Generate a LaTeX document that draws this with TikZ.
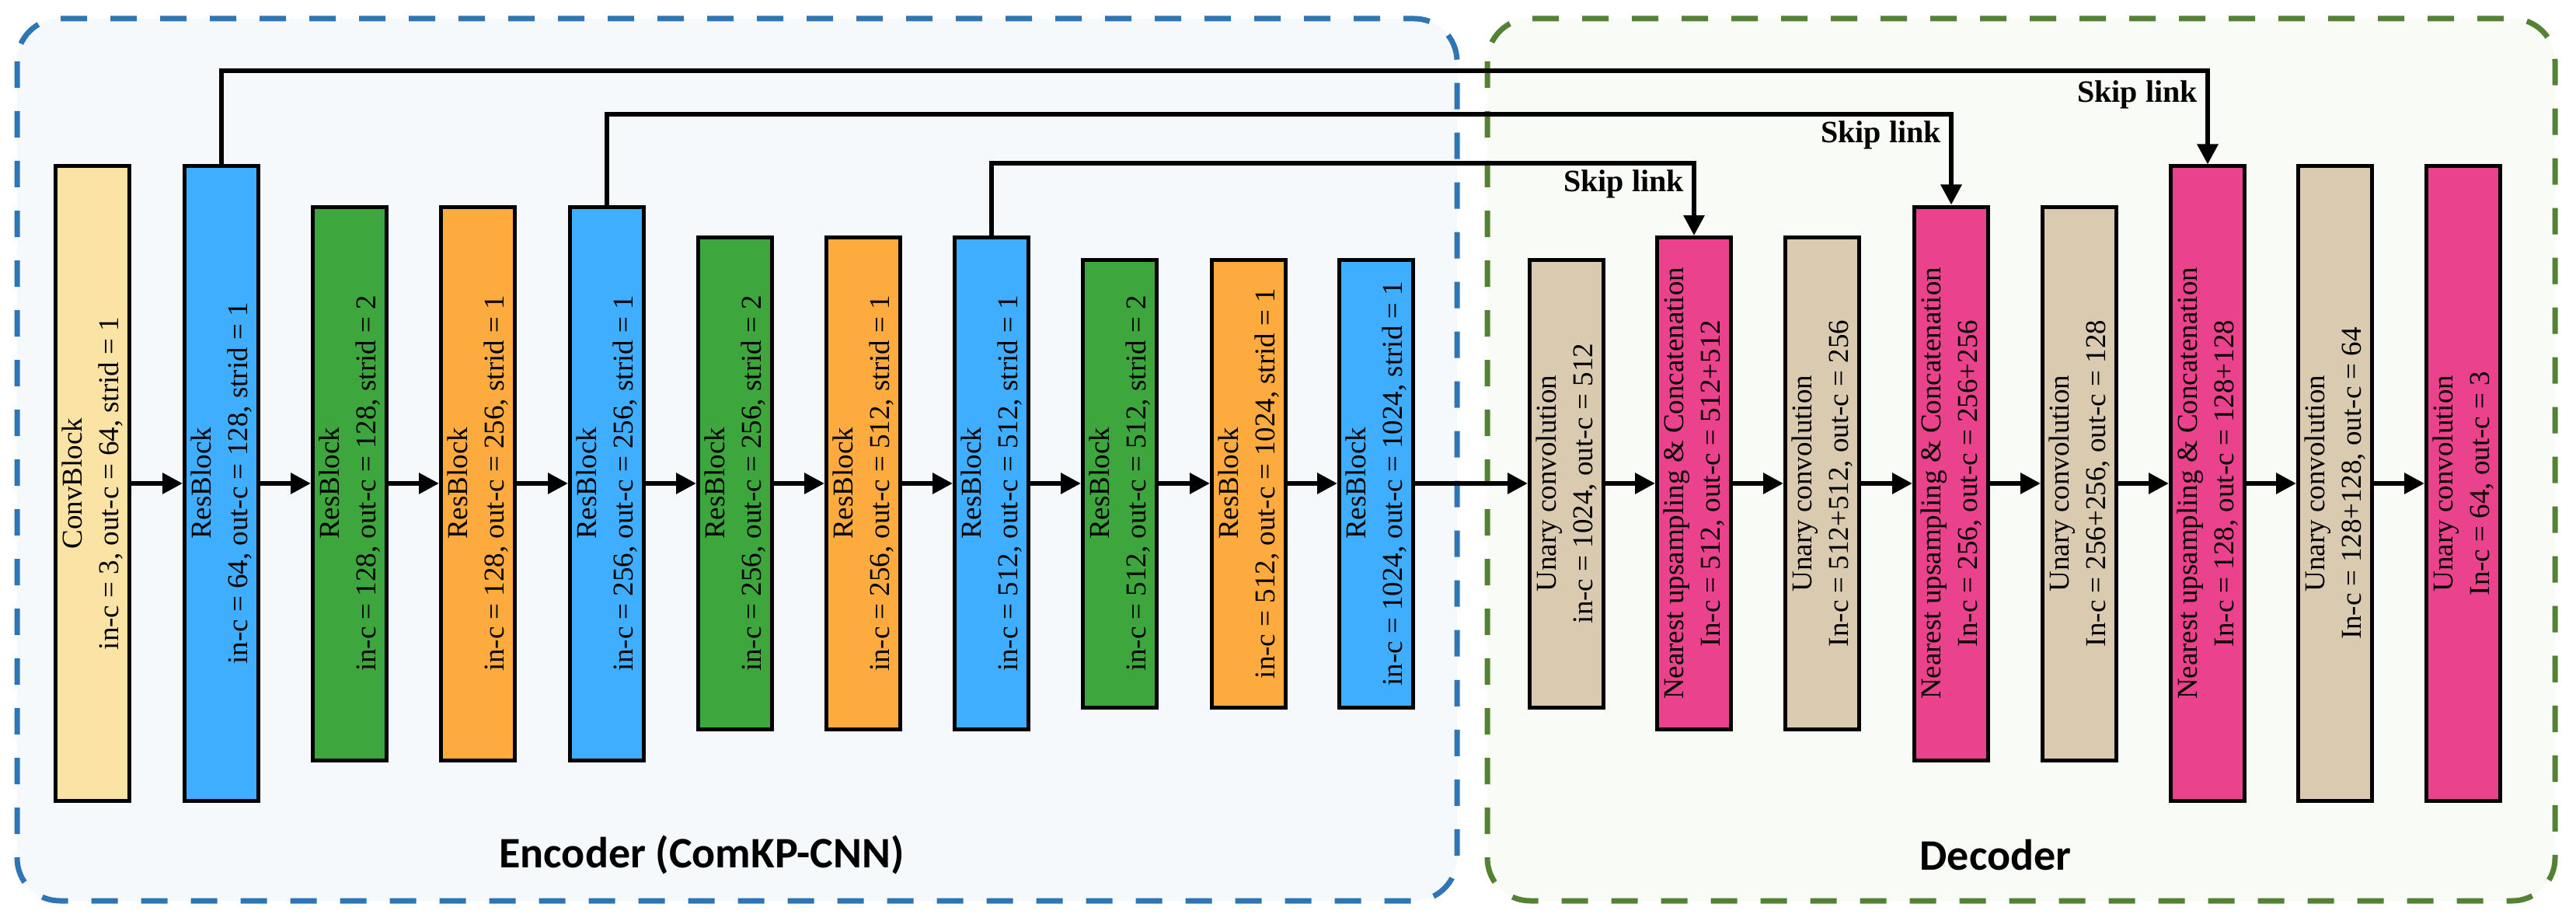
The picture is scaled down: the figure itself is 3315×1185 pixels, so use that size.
\documentclass[tikz,border=0pt]{standalone}
\usepackage{fontspec}
\setmainfont{Liberation Serif}
\newfontfamily\labfont{Carlito}
\usetikzlibrary{arrows.meta}
\definecolor{cconv}{HTML}{FBE3A6}
\definecolor{cblue}{HTML}{40AEFF}
\definecolor{cgreen}{HTML}{3DA63D}
\definecolor{corange}{HTML}{FDAB3F}
\definecolor{ctan}{HTML}{D9CAB0}
\definecolor{cpink}{HTML}{EA428C}
\definecolor{encline}{HTML}{2E75B6}
\definecolor{encfill}{HTML}{F5F9FC}
\definecolor{decline}{HTML}{548235}
\definecolor{decfill}{HTML}{F9FBF7}
\tikzset{
  blk/.style={draw=black,line width=5pt,minimum width=95pt,inner sep=0pt,rectangle},
  lbl/.style={rotate=90,align=center,font=\fontsize{37}{47}\selectfont,inner sep=0pt},
  flow/.style={line width=6pt,-{Triangle[length=26pt,width=26pt]}},
  skip/.style={line width=6pt,-{Triangle[length=26pt,width=26pt]}},
  skiplbl/.style={font=\fontsize{40}{44}\selectfont\bfseries,anchor=east,inner sep=0pt},
  frame/.style={line width=7pt,dash pattern=on 34pt off 30pt,rounded corners=55pt},
  title/.style={font=\labfont\fontsize{56}{60}\selectfont\bfseries}
}
\newcommand\blk[5]{\node[blk,fill=#4,minimum height=#3] (#1) at (#2,622) {};
  \node[lbl] (#1t) at (#1.center) {#5};}
\begin{document}
\begin{tikzpicture}[x=1pt,y=-1pt]
\useasboundingbox (0,0) rectangle (3315,1185);
\draw[frame,draw=encline,fill=encfill] (22,24) rectangle (1875,1159);
\draw[frame,draw=decline,fill=decfill] (1914,24) rectangle (3288,1159);
\node[title] (enc) at (903,1100) {Encoder (ComKP-CNN)};
\node[title] (dec) at (2568,1100) {Decoder};
% encoder
\blk{c0}{119}{816pt}{cconv}{ConvBlock\\in-c = 3, out-c = 64, strid = 1}
\blk{e1}{285}{816pt}{cblue}{ResBlock\\in-c = 64, out-c = 128, strid = 1}
\blk{e2}{450}{712pt}{cgreen}{ResBlock\\in-c = 128, out-c = 128, strid = 2}
\blk{e3}{615}{712pt}{corange}{ResBlock\\in-c = 128, out-c = 256, strid = 1}
\blk{e4}{781}{712pt}{cblue}{ResBlock\\in-c = 256, out-c = 256, strid = 1}
\blk{e5}{946}{633pt}{cgreen}{ResBlock\\in-c = 256, out-c = 256, strid = 2}
\blk{e6}{1111}{633pt}{corange}{ResBlock\\in-c = 256, out-c = 512, strid = 1}
\blk{e7}{1276}{633pt}{cblue}{ResBlock\\in-c = 512, out-c = 512, strid = 1}
\blk{e8}{1441}{576pt}{cgreen}{ResBlock\\in-c = 512, out-c = 512, strid = 2}
\blk{e9}{1607}{576pt}{corange}{ResBlock\\in-c = 512, out-c = 1024, strid = 1}
\blk{e10}{1771}{576pt}{cblue}{ResBlock\\in-c = 1024, out-c = 1024, strid = 1}
% decoder
\blk{d1}{2016}{576pt}{ctan}{Unary convolution\\in-c = 1024, out-c = 512}
\blk{d2}{2180}{633pt}{cpink}{Nearest upsampling \& Concatenation\\In-c = 512, out-c = 512+512}
\blk{d3}{2345}{633pt}{ctan}{Unary convolution\\In-c = 512+512, out-c = 256}
\blk{d4}{2511}{712pt}{cpink}{Nearest upsampling \& Concatenation\\In-c = 256, out-c = 256+256}
\blk{d5}{2676}{712pt}{ctan}{Unary convolution\\In-c = 256+256, out-c = 128}
\blk{d6}{2841}{816pt}{cpink}{Nearest upsampling \& Concatenation\\In-c = 128, out-c = 128+128}
\blk{d7}{3005}{816pt}{ctan}{Unary convolution\\In-c = 128+128, out-c = 64}
\blk{d8}{3170}{816pt}{cpink}{Unary convolution\\In-c = 64, out-c = 3}
% flow arrows
\foreach \a/\b in {c0/e1,e1/e2,e2/e3,e3/e4,e4/e5,e5/e6,e6/e7,e7/e8,e8/e9,e9/e10,e10/d1,d1/d2,d2/d3,d3/d4,d4/d5,d5/d6,d6/d7,d7/d8}
  \draw[flow] (\a.east) -- (\b.west);
% skip links
\coordinate (s1) at (2841,91);
\coordinate (s2) at (2511,147);
\coordinate (s3) at (2180,210);
\draw[skip] (e1.north) |- (s1) -- (d6.north);
\draw[skip] (e4.north) |- (s2) -- (d4.north);
\draw[skip] (e7.north) |- (s3) -- (d2.north);
\node[skiplbl] (k1) at (2828,122) {Skip link};
\node[skiplbl] (k2) at (2498,174) {Skip link};
\node[skiplbl] (k3) at (2167,237) {Skip link};
\end{tikzpicture}
\end{document}
